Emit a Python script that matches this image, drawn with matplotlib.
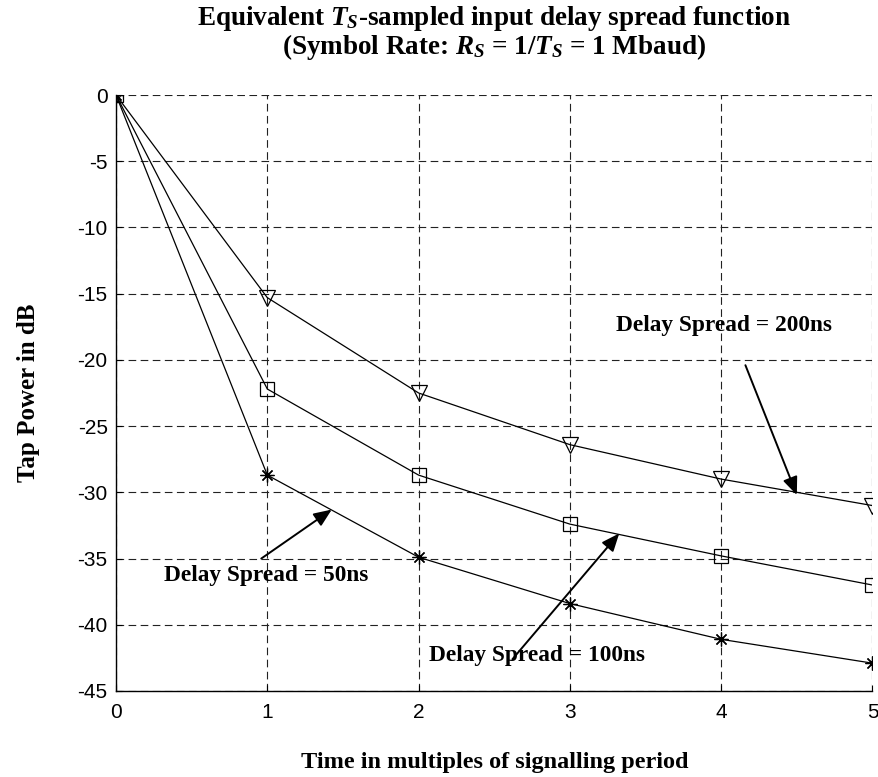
import matplotlib
matplotlib.use("Agg")
import matplotlib.pyplot as plt

plt.rcParams['axes.unicode_minus'] = False
plt.rcParams['lines.scale_dashes'] = False
plt.rcParams['mathtext.fontset'] = 'custom'
plt.rcParams['mathtext.rm'] = 'Liberation Serif:bold'
plt.rcParams['mathtext.bf'] = 'Liberation Serif:bold'
plt.rcParams['mathtext.it'] = 'Liberation Serif:italic:bold'

# Tap index (multiples of the symbol period)
taps = [0, 1, 2, 3, 4, 5]

# Tap power in dB for each RMS delay spread
power_200ns = [0, -15.3, -22.5, -26.4, -29.0, -31.0]
power_100ns = [0, -22.2, -28.7, -32.4, -34.8, -37.0]
power_50ns = [0, -28.7, -34.9, -38.4, -41.1, -42.9]

x_ticks = [0, 1, 2, 3, 4, 5]
y_ticks = [0, -5, -10, -15, -20, -25, -30, -35, -40, -45]

serif_bold = dict(family='Liberation Serif', weight='bold')

fig = plt.figure(figsize=(8.79, 7.77), dpi=100)
ax = fig.add_axes([0.132, 0.1107, 0.8606, 0.767])

line_kw = dict(color='black', linewidth=0.9, markerfacecolor='none',
               markeredgecolor='black', markeredgewidth=0.9)
ax.plot(taps, power_200ns, marker='v', markersize=11, **line_kw)
ax.plot(taps, power_100ns, marker='s', markersize=10, **line_kw)
ax.plot(taps, power_50ns, marker=(8, 2, 0), markersize=10, **line_kw)

ax.set_xlim(0, 5)
ax.set_ylim(-45, 0)
ax.set_xticks(x_ticks)
ax.set_yticks(y_ticks)
ax.set_xticklabels([str(t) for t in x_ticks], family='Liberation Sans', fontsize=15)
ax.set_yticklabels([str(t) for t in y_ticks], family='Liberation Sans', fontsize=15)
ax.tick_params(direction='in', length=4, width=0.8, pad=6)
ax.tick_params(axis='x', pad=9)

ax.grid(True, color='#222222', linestyle=(0, (5.5, 3.2)), linewidth=0.8)
for side in ('top', 'right'):
    ax.spines[side].set_visible(False)
for side in ('left', 'bottom'):
    ax.spines[side].set_linewidth(1.0)

ax.set_xlabel('Time in multiples of signalling period', fontsize=17.5, labelpad=21, **serif_bold)
ax.set_ylabel('Tap Power in dB', fontsize=18, labelpad=27, **serif_bold)

# Two-line heading centred over the plotting area
title_x = 0.132 + 0.8606 / 2
fig.text(title_x, 1 - 25 / 777, 'Equivalent $T_S$-sampled input delay spread function',
         ha='center', va='baseline', fontsize=19.5, **serif_bold)
fig.text(title_x, 1 - 54 / 777, '(Symbol Rate: $R_S$ = 1/$T_S$ = 1 Mbaud)',
         ha='center', va='baseline', fontsize=19.5, **serif_bold)

arrow_kw = dict(arrowstyle='-|>,head_length=0.6,head_width=0.25',
                mutation_scale=18, lw=1.4, color='black',
                shrinkA=0, shrinkB=0)

# Delay spread = 200 ns
ax.text(4.02, -17.4, 'Delay Spread = 200ns', ha='center', va='center', fontsize=16.8, **serif_bold)
ax.annotate('', xy=(4.50, -30.2), xytext=(4.16, -20.4), arrowprops=arrow_kw)

# Delay spread = 50 ns
ax.text(0.99, -36.3, 'Delay Spread = 50ns', ha='center', va='center', fontsize=16.8, **serif_bold)
ax.annotate('', xy=(1.426, -31.3), xytext=(0.96, -35.0), arrowprops=arrow_kw)

# Delay spread = 100 ns
ax.text(2.78, -42.3, 'Delay Spread = 100ns', ha='center', va='center', fontsize=16.8, **serif_bold)
ax.annotate('', xy=(3.326, -33.1), xytext=(2.62, -42.6), arrowprops=arrow_kw)

fig.savefig('out.png', dpi=100)
